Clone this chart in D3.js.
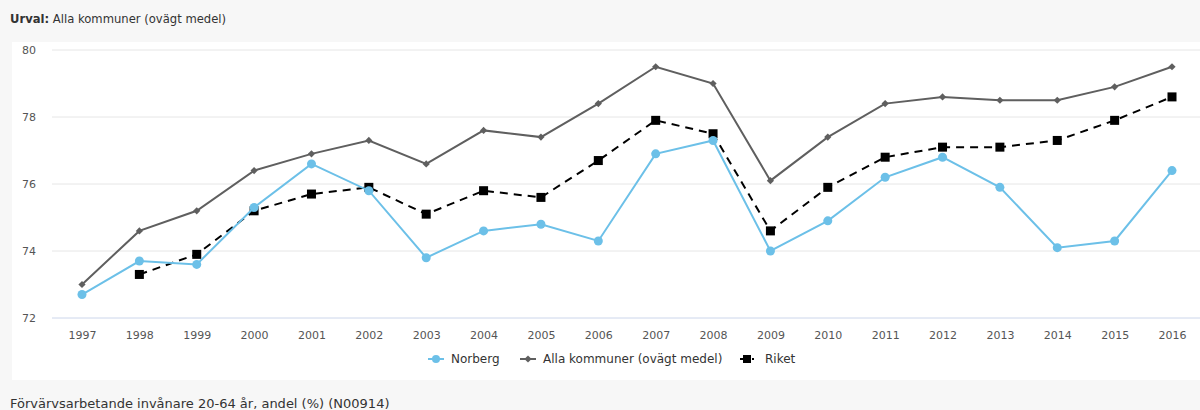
<!DOCTYPE html>
<html><head><meta charset="utf-8">
<script src="https://cdn.jsdelivr.net/npm/d3@7"></script>
<style>
html,body{margin:0;padding:0;background:#f7f7f7;}
svg{display:block;font-family:"DejaVu Sans",Verdana,sans-serif;}
</style></head>
<body>
<svg id="c" width="1200" height="410"></svg>
<script>
const years = [1997,1998,1999,2000,2001,2002,2003,2004,2005,2006,2007,2008,2009,2010,2011,2012,2013,2014,2015,2016];
const norberg = [72.7,73.7,73.6,75.3,76.6,75.8,73.8,74.6,74.8,74.3,76.9,77.3,74.0,74.9,76.2,76.8,75.9,74.1,74.3,76.4];
const allaKommuner = [73.0,74.6,75.2,76.4,76.9,77.3,76.6,77.6,77.4,78.4,79.5,79.0,76.1,77.4,78.4,78.6,78.5,78.5,78.9,79.5];
const riket = [null,73.3,73.9,75.2,75.7,75.9,75.1,75.8,75.6,76.7,77.9,77.5,74.6,75.9,76.8,77.1,77.1,77.3,77.9,78.6];
const yTicks = [72,74,76,78,80];
const seriesNames = ["Norberg","Alla kommuner (ovägt medel)","Riket"];

const svg = d3.select("#c");
svg.append("rect").attr("x",12).attr("y",42).attr("width",1188).attr("height",338).attr("fill","#fff");

svg.append("text").attr("x",10).attr("y",23).attr("font-size",11.6).attr("fill","#333")
  .call(t=>{t.append("tspan").attr("font-weight","bold").text("Urval:");t.append("tspan").text(" Alla kommuner (ovägt medel)");});

svg.append("text").attr("x",10).attr("y",408).attr("font-size",13).attr("fill","#333")
  .text("Förvärvsarbetande invånare 20-64 år, andel (%) (N00914)");

const x = d3.scalePoint().domain(years).range([82,1172]);
const y = d3.scaleLinear().domain([72,80]).range([318,50]);

const grid = svg.append("g");
yTicks.forEach(v=>{
  grid.append("line").attr("x1",52).attr("x2",1200).attr("y1",y(v)).attr("y2",y(v))
    .attr("stroke", v===72 ? "#ccd6eb" : "#e6e6e6").attr("stroke-width",1);
});

const yAxis = svg.append("g").attr("transform","translate(36,0)")
  .call(d3.axisLeft(y).tickValues(yTicks).tickSize(0).tickPadding(0));
yAxis.select(".domain").remove();
yAxis.selectAll("text").attr("font-size",11).attr("fill","#555").attr("font-family","DejaVu Sans").attr("dy","0.35em").attr("text-anchor","end");

const xAxis = svg.append("g").attr("transform","translate(0,318)")
  .call(d3.axisBottom(x).tickSize(0).tickPadding(13).tickFormat(d3.format("d")));
xAxis.select(".domain").remove();
xAxis.selectAll("text").attr("font-size",11).attr("fill","#555").attr("font-family","DejaVu Sans");

const line = d3.line().defined(d=>d.v!==null).x(d=>x(d.yr)).y(d=>y(d.v));
const toPts = arr => years.map((yr,i)=>({yr, v:arr[i]}));
const diamondPath = d3.symbol().type(d3.symbolSquare).size(26);

// Alla kommuner
const aPts = toPts(allaKommuner);
svg.append("path").datum(aPts).attr("d",line).attr("fill","none").attr("stroke","#5f5f5f").attr("stroke-width",2);
svg.append("g").selectAll("path").data(aPts).join("path")
  .attr("transform",d=>`translate(${x(d.yr)},${y(d.v)}) rotate(45)`).attr("d",diamondPath).attr("fill","#5f5f5f");

// Riket
const rPts = toPts(riket);
svg.append("path").datum(rPts).attr("d",line).attr("fill","none").attr("stroke","#000").attr("stroke-width",2).attr("stroke-dasharray","8,6");
svg.append("g").selectAll("rect").data(rPts.filter(d=>d.v!==null)).join("rect")
  .attr("x",d=>x(d.yr)-4.5).attr("y",d=>y(d.v)-4.5).attr("width",9).attr("height",9).attr("fill","#000");

// Norberg
const nPts = toPts(norberg);
svg.append("path").datum(nPts).attr("d",line).attr("fill","none").attr("stroke","#6cc0e8").attr("stroke-width",2);
svg.append("g").selectAll("circle").data(nPts).join("circle")
  .attr("cx",d=>x(d.yr)).attr("cy",d=>y(d.v)).attr("r",4.5).attr("fill","#6cc0e8");

// legend
const lg = svg.append("g").attr("font-size",12);
const legendX = [428, 520, 740];
const ly = 359;
lg.append("line").attr("x1",legendX[0]).attr("x2",legendX[0]+16).attr("y1",ly).attr("y2",ly).attr("stroke","#6cc0e8").attr("stroke-width",2);
lg.append("circle").attr("cx",legendX[0]+8).attr("cy",ly).attr("r",4).attr("fill","#6cc0e8");
lg.append("text").attr("x",legendX[0]+23).attr("y",ly).attr("dy","0.35em").attr("fill","#333").text(seriesNames[0]);
lg.append("line").attr("x1",legendX[1]).attr("x2",legendX[1]+16).attr("y1",ly).attr("y2",ly).attr("stroke","#5f5f5f").attr("stroke-width",2);
lg.append("path").attr("transform",`translate(${legendX[1]+8},${ly}) rotate(45)`).attr("d",diamondPath).attr("fill","#5f5f5f");
lg.append("text").attr("x",legendX[1]+23).attr("y",ly).attr("dy","0.35em").attr("fill","#333").text(seriesNames[1]);
lg.append("line").attr("x1",legendX[2]).attr("x2",legendX[2]+16).attr("y1",ly).attr("y2",ly).attr("stroke","#000").attr("stroke-width",2).attr("stroke-dasharray","10,2,2,2");
lg.append("rect").attr("x",legendX[2]+3).attr("y",ly-4).attr("width",8).attr("height",8).attr("fill","#000");
lg.append("text").attr("x",legendX[2]+25).attr("y",ly).attr("dy","0.35em").attr("fill","#333").text(seriesNames[2]);
</script>
</body></html>
